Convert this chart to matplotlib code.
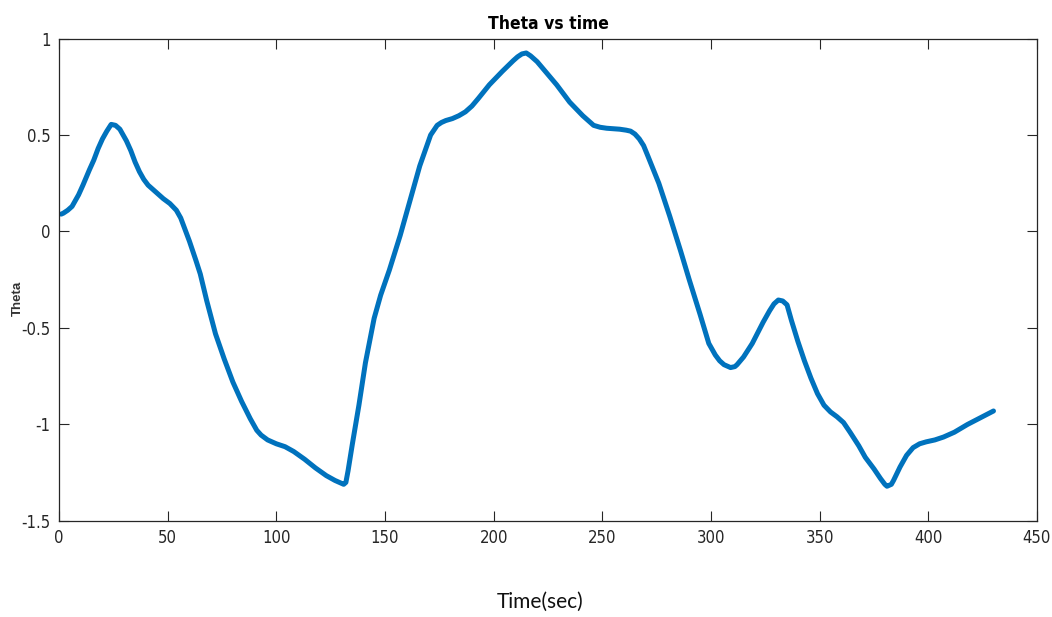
import matplotlib.pyplot as plt
from matplotlib import font_manager

# time (sec) and theta samples
time_sec = [1, 2, 4, 6, 9, 11, 14, 16, 18, 20, 22, 24, 26, 28, 31, 33, 35, 37, 39, 41, 44, 48, 51,
            54, 56, 58, 60, 63, 65, 68, 72, 76, 80, 84, 88, 91, 93, 96, 100, 104, 108, 113, 118,
            123, 127, 129, 131, 132, 133, 135, 138, 141, 145, 148, 152, 157, 161, 166, 171, 174,
            176, 178, 181, 184, 187, 190, 193, 198, 204, 209, 211, 213, 215, 217, 220, 223, 229,
            235, 241, 244, 246, 249, 252, 258, 261, 263, 265, 267, 269, 271, 276, 281, 286, 290,
            295, 299, 302, 304, 306, 308, 309, 311, 312, 315, 319, 324, 327, 329, 331, 333, 335,
            337, 340, 343, 346, 349, 352, 355, 358, 361, 364, 368, 371, 375, 378, 380, 381, 383,
            384, 387, 390, 393, 396, 399, 403, 407, 412, 418, 424, 430]
theta = [0.09, 0.095, 0.11, 0.13, 0.19, 0.24, 0.32, 0.37, 0.43, 0.48, 0.52, 0.555, 0.55, 0.53,
         0.47, 0.42, 0.36, 0.31, 0.27, 0.24, 0.21, 0.17, 0.145, 0.11, 0.07, 0.01, -0.05, -0.15,
         -0.22, -0.36, -0.53, -0.66, -0.78, -0.88, -0.97, -1.03, -1.055, -1.08, -1.1, -1.115,
         -1.14, -1.18, -1.225, -1.265, -1.29, -1.3, -1.31, -1.3, -1.24, -1.1, -0.9, -0.68, -0.45,
         -0.33, -0.2, -0.02, 0.14, 0.34, 0.5, 0.55, 0.565, 0.575, 0.585, 0.6, 0.62, 0.65, 0.69,
         0.76, 0.83, 0.885, 0.905, 0.92, 0.925, 0.91, 0.88, 0.84, 0.76, 0.67, 0.6, 0.57, 0.55,
         0.54, 0.535, 0.53, 0.525, 0.52, 0.505, 0.48, 0.445, 0.39, 0.25, 0.08, -0.1, -0.25,
         -0.43, -0.58, -0.64, -0.67, -0.69, -0.7, -0.705, -0.7, -0.69, -0.65, -0.58, -0.47,
         -0.41, -0.375, -0.355, -0.36, -0.38, -0.46, -0.57, -0.67, -0.76, -0.84, -0.9, -0.935,
         -0.96, -0.99, -1.04, -1.11, -1.17, -1.23, -1.28, -1.31, -1.32, -1.31, -1.29, -1.22,
         -1.16, -1.12, -1.1, -1.09, -1.08, -1.065, -1.04, -1.0, -0.965, -0.93]

xticks = [0, 50, 100, 150, 200, 250, 300, 350, 400, 450]
yticks = [-1.5, -1, -0.5, 0, 0.5, 1]
ytick_labels = ['-1.5', '-1', '-0.5', '0', '0.5', '1']

narrow = font_manager.FontProperties(family='DejaVu Sans', stretch='condensed', size=12)

fig = plt.figure(figsize=(10.52, 6.17), dpi=100)
ax = fig.add_axes([0.0561, 0.1556, 0.9296, 0.782])

ax.plot(time_sec, theta, color='#0072BD', linewidth=3.6,
        solid_joinstyle='round', solid_capstyle='round')

ax.set_xlim(0, 450)
ax.set_ylim(-1.5, 1)
ax.set_xticks(xticks)
ax.set_yticks(yticks)
ax.set_yticklabels(ytick_labels)
ax.tick_params(direction='in', length=7, width=0.8, colors='#262626', pad=6)
ax.tick_params(axis='y', left=True, right=True)
ax.tick_params(axis='x', top=True)
for lab in ax.get_xticklabels() + ax.get_yticklabels():
    lab.set_fontproperties(narrow)
for s in ax.spines.values():
    s.set_color('#262626')
    s.set_linewidth(0.9)

ax.set_title('Theta vs time', fontsize=12.5, fontweight='bold', pad=7,
             fontstretch='condensed', family='DejaVu Sans')
# y label sits above the -0.5 tick label
fig.text(0.017, 0.517, 'Theta', rotation=90, fontsize=9.5, fontweight='bold',
         family=['Liberation Sans', 'DejaVu Sans'], color='#333333', ha='center', va='center')
fig.text(0.513, 0.025, 'Time(sec)', fontsize=15, family=['Lato', 'DejaVu Sans'],
         ha='center', va='center', color='#111111')

fig.savefig('out.png', dpi=100)
